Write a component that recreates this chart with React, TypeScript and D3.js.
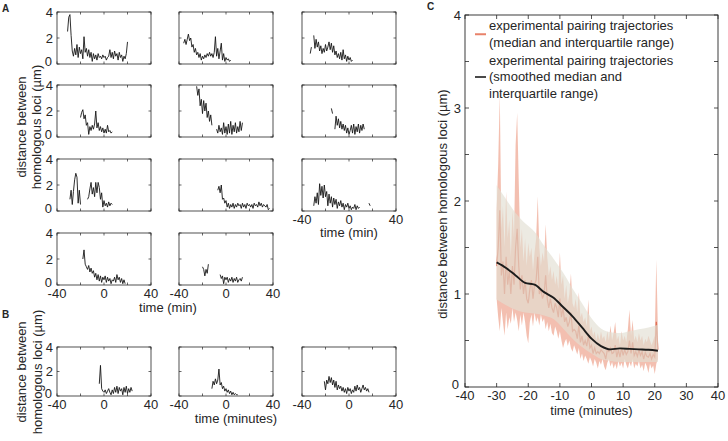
import * as d3 from "d3";

const FONT = "'Liberation Sans', Arial, Helvetica, sans-serif";
const INK = "#262626";

// ---- panels A / B : single trajectories, 1-min samples from t0 (null = gap) ----
const a11 = [2.5, 3.6, 3.8, 2.2, 1.0, 0.6, 1.2, 0.7, 1.5, 0.5, 1.3, 0.8, 1.1, 0.4, 2.1, 0.9, 1.2, 0.6, 1.1, 0.5, 0.9, 0.2, 0.8, 0.4, 0.7, 0.3, 0.8, 0.5, 0.6, 0.4, 0.7, 0.5, 0.6, 0.3, 0.5, 0.6, 1.1, 0.5, 0.9, 0.4, 1.0, 0.6, 0.8, 0.3, 0.9, 0.5, 0.7, 0.2, 0.6, 0.4, 0.8, 1.7];
const a21 = [1.5, 1.9, 2.1, 1.4, 1.7, 0.9, 1.1, 0.2, 0.8, 0.5, 0.9, 0.6, 1.0, 2.0, 0.7, 1.1, 0.5, 0.8, 0.4, 0.7, 0.3, 0.6, 0.3, 0.9, 0.4, 0.5, 0.3, 0.4];
const a31 = [0.9, 1.6, 0.5, 1.5, 2.4, 2.9, 2.6, 0.6, 1.6, 0.5, null, null, null, null, null, 0.9, 1.1, 1.7, 2.2, 1.3, 1.8, 1.1, 2.2, 1.4, 2.2, 1.8, 0.9, 1.4, 0.3, 0.8, 0.4, 0.6, 0.3, 0.7, 0.4, 0.6, 0.5];
const a41 = [2.0, 2.7, 1.6, 1.4, 1.2, 1.5, 1.0, 1.3, 0.9, 1.1, 0.6, 0.9, 0.4, 0.8, 0.3, 0.7, 0.2, 0.6, 0.4, 0.7, 0.2, 0.6, 0.3, 0.5, 0.1, 0.4, 0.3, 0.6, 0.2, 0.8, 0.4, 0.6, 0.2, 0.5, 0.1, 0.4, 0.1];
const a12 = [1.6, 1.9, 1.5, 1.9, 2.3, 1.8, 2.0, 1.3, 1.5, 0.9, 1.2, 0.7, 0.9, 0.5, 0.8, 0.3, 0.6, 0.4, 0.7, 0.5, 0.8, 0.6, 0.9, 0.6, 0.8, 0.5, 0.9, 2.1, 0.6, 1.2, 0.4, 1.0, 1.6, 0.3, 0.8, 0.2, 0.5, 0.3, 0.4, 0.2, 0.3];
const a22 = [3.9, 3.2, 3.7, 2.4, 2.9, 1.8, 2.8, 2.0, 2.6, 1.5, 2.0, 1.2, 1.7, 0.9, null, null, null, 0.6, 0.3, 0.9, 0.4, 0.7, 0.2, 1.1, 0.3, 0.8, 0.2, 1.0, 0.3, 1.2, 0.2, 0.9, 0.4, 1.1, 0.3, 0.8, 0.4, 1.2, 0.5, 1.1];
const a32 = [1.6, 1.9, 1.4, 2.0, 0.9, 1.0, 0.6, 0.8, 0.3, 0.6, 0.2, 0.5, 0.3, 0.6, 0.2, 0.5, 0.3, 0.6, 0.4, 0.5, 0.2, 0.6, 0.3, 0.5, 0.2, 0.6, 0.4, 0.5, 0.3, 0.5, 0.2, 0.6, 0.4, 0.5, 0.3, 0.7, 0.4, 0.6, 0.3, 0.5, 0.4, 0.3, 0.5, 0.1, 0.2];
const a42 = [1.4, 1.2, 0.7, 1.2, 0.9, 1.6, null, null, null, null, null, null, null, null, null, 0.8, 0.5, 0.7, 0.1, 0.6, 0.4, 0.6, 0.2, 0.5, 0.3, 0.6, 0.2, 0.5, 0.3, 0.6, 0.2, 0.4, 0.5, 0.3, 0.6];
const a13 = [0.8, 1.3, null, 2.2, 1.2, 1.9, 1.3, 1.7, 1.0, 1.4, 0.8, 1.2, 0.9, 1.5, 1.0, 1.3, 1.7, 1.1, 1.6, 0.9, 1.4, 0.7, 1.0, 0.5, 0.8, 0.4, 0.9, 0.3, 1.1, 0.4, 0.7, 0.2, 0.6, 0.3, 0.5, 0.2, 0.3];
const a23 = [2.2, 1.8, null, 0.6, 1.6, 0.9, 1.4, 0.7, 1.2, 0.6, 1.0, 0.5, 0.9, 0.3, 0.7, 0.2, 0.5, 0.9, 0.3, 1.0, 0.2, 0.8, 0.4, 1.0, 0.3, 0.9, 0.5, 1.0, 0.6];
const a33 = [0.4, 1.1, 0.6, 1.4, 0.5, 2.1, 1.2, 1.9, 1.0, 2.0, 1.1, 1.5, 0.4, 1.3, 0.6, 1.1, 0.3, 1.0, 0.5, 0.9, 0.2, 0.7, 0.4, 0.8, 0.3, 0.6, 0.1, 0.5, 0.3, 0.6, 0.2, 0.4, 0.1, 0.3, 0.2, 0.5, 0.1, 0.4, 0.2, 0.3, null, null, null, null, null, null, null, 0.6, 0.4];
const b1 = [1.0, 2.5, 0.6, 0.4, 0.3, 0.5, 0.2, 0.4, 0.6, 0.3, 0.1, 0.5, 0.2, 0.7, 0.3, 0.8, 0.2, 0.7, 0.4, 0.6, 0.1, 0.7, 0.3, 0.8, 0.2, 0.6, 0.3, 0.7, 0.4];
const b2 = [0.6, 1.2, 0.9, 1.4, 1.0, 1.3, 2.2, 0.9, 1.1, 0.6, 0.8, 0.4, 0.6, 0.3, 0.5, 0.2, 0.4, 0.1, 0.3, 0.1, 0.2, 0.1, 0.1];
const b3 = [1.2, 0.5, 1.3, 1.0, 1.6, 1.1, 1.5, 0.9, 1.3, 0.7, 1.2, 0.5, 0.9, 0.6, 0.8, 0.4, 0.7, 0.3, 0.6, 0.2, 0.7, 0.4, 0.6, 0.2, 0.5, 0.3, 0.8, 0.4, 0.9, 0.5, 0.7, 0.3, 0.6, 0.9, 0.5, 0.7, 0.4, 0.6, 0.3];

const smallXTicks = [-40, -20, 0, 20, 40];
const smallXLabels = [-40, 0, 40];
const smallYTicks = [0, 2, 4];

// ---- panel C : median / IQR, 0.5-min samples from -30 min ----
const cStart = -30;
const cUpper = [
  1.9, 2.4, 3.15, 1.7, 1.95, 1.5, 2.1, 1.6, 1.8, 1.4,
  1.9, 1.6, 2.6, 2.95, 2.2, 1.5, 1.7, 1.35, 1.6, 1.3,
  1.55, 1.4, 1.5, 1.25, 1.45, 1.6, 2.05, 1.5, 1.3, 1.45,
  1.35, 1.75, 1.4, 1.2, 1.3, 1.15, 1.25, 1.1, 1.2, 1.05,
  1.45, 1.1, 1.2, 0.95, 1.1, 0.9, 1.0, 1.22, 0.9, 0.85,
  0.95, 0.8, 1.02, 0.75, 0.8, 0.7, 0.75, 0.65, 0.94, 0.6,
  0.65, 0.55, 0.6, 0.5, 0.58, 0.5, 0.6, 0.52, 0.55, 0.48,
  0.6, 0.5, 0.66, 0.5, 0.58, 0.7, 0.5, 0.55, 0.45, 0.6,
  0.5, 0.55, 0.48, 0.62, 0.83, 0.55, 0.72, 0.5, 0.55, 0.48,
  0.58, 0.5, 0.55, 0.45, 0.52, 0.48, 0.55, 0.5, 0.45, 0.5,
  0.55, 1.37, 0.6,
];
const cLower = [
  0.95, 0.75, 0.6, 0.85, 0.7, 0.55, 0.8, 0.62, 0.75, 0.68,
  0.85, 0.7, 0.8, 0.72, 0.6, 0.78, 0.66, 0.8, 0.7, 0.55,
  0.47, 0.7, 0.78, 0.65, 0.8, 0.7, 0.75, 0.66, 0.78, 0.7,
  0.74, 0.62, 0.7, 0.6, 0.68, 0.58, 0.55, 0.65, 0.6, 0.52,
  0.6, 0.5, 0.42, 0.48, 0.52, 0.44, 0.5, 0.42, 0.38, 0.45,
  0.4, 0.35, 0.42, 0.3, 0.36, 0.28, 0.34, 0.3, 0.25, 0.32,
  0.28, 0.22, 0.3, 0.26, 0.2, 0.28, 0.24, 0.3, 0.22, 0.18,
  0.26, 0.3, 0.22, 0.27, 0.2, 0.25, 0.19, 0.28, 0.22, 0.26,
  0.2, 0.3, 0.24, 0.2, 0.27, 0.22, 0.3, 0.2, 0.25, 0.22,
  0.28, 0.2, 0.24, 0.17, 0.26, 0.22, 0.15, 0.25, 0.2, 0.23,
  0.14, 0.25, 0.3,
];
const cMedian = [
  1.3, 1.5, 1.9, 1.2, 1.35, 1.0, 1.4, 1.1, 1.25, 1.0,
  1.3, 1.1, 1.5, 1.7, 1.3, 1.05, 1.2, 1.0, 1.15, 0.95,
  0.9, 1.05, 1.15, 0.95, 1.1, 1.15, 1.4, 1.0, 1.05, 0.95,
  1.0, 1.2, 0.95, 0.85, 0.95, 0.85, 0.8, 0.9, 0.85, 0.75,
  0.95, 0.75, 0.85, 0.7, 0.75, 0.65, 0.7, 0.8, 0.6, 0.62,
  0.6, 0.52, 0.66, 0.48, 0.55, 0.45, 0.5, 0.44, 0.55, 0.42,
  0.45, 0.36, 0.42, 0.36, 0.38, 0.36, 0.4, 0.38, 0.36, 0.3,
  0.4, 0.38, 0.42, 0.36, 0.37, 0.45, 0.32, 0.4, 0.32, 0.42,
  0.34, 0.4, 0.35, 0.38, 0.5, 0.36, 0.48, 0.34, 0.38, 0.33,
  0.4, 0.34, 0.38, 0.3, 0.37, 0.33, 0.32, 0.36, 0.3, 0.35,
  0.32, 0.7, 0.4,
];

// smoothed median and IQR
const smoothT = [-30, -27, -24, -21, -18, -15, -12, -9, -6, -3, 0, 3, 6, 9, 12, 15, 18, 21];
const smoothMed = [1.34, 1.28, 1.2, 1.12, 1.1, 1.02, 0.96, 0.86, 0.76, 0.64, 0.52, 0.44, 0.405, 0.415, 0.41, 0.405, 0.4, 0.39];
const smoothHi = [2.17, 2.02, 1.87, 1.76, 1.67, 1.52, 1.38, 1.23, 1.06, 0.9, 0.74, 0.63, 0.59, 0.58, 0.6, 0.62, 0.64, 0.67];
const smoothLo = [0.94, 0.88, 0.83, 0.8, 0.79, 0.77, 0.73, 0.63, 0.52, 0.43, 0.36, 0.3, 0.28, 0.27, 0.27, 0.27, 0.27, 0.27];

const cXTicks = [-40, -30, -20, -10, 0, 10, 20, 30, 40];
const cYTicks = [0, 0.5, 1, 1.5, 2, 2.5, 3, 3.5, 4];
const cYLabels = [0, 1, 2, 3, 4];

const legendItems = [
  { color: "#e8826a", lines: ["experimental pairing trajectories", "(median and interquartile range)"] },
  { color: "#4a4a4a", lines: ["experimental pairing trajectories", "(smoothed median and", "interquartile range)"] },
];

type Pt = [number, number | null];

function SmallPanel({ left, top, h, data, t0, yLab, xLab }: any) {
  const w = 94;
  const x = d3.scaleLinear().domain([-40, 40]).range([left, left + w]);
  const y = d3.scaleLinear().domain([0, 4]).range([top + h, top]);
  const pts: Pt[] = data.map((v: number | null, i: number) => [t0 + i, v]);
  const line = d3
    .line<Pt>()
    .defined((d) => d[1] != null)
    .x((d) => x(d[0]))
    .y((d) => y(d[1] as number));
  return (
    <g>
      <path d={line(pts) || ""} fill="none" stroke="#161616" strokeWidth={0.9} />
      <rect x={left} y={top} width={w} height={h} fill="none" stroke={INK} strokeWidth={0.8} />
      {smallXTicks.map((t) => (
        <g key={"x" + t} stroke={INK} strokeWidth={0.7}>
          <line x1={x(t)} x2={x(t)} y1={top + h} y2={top + h - 2.5} />
          <line x1={x(t)} x2={x(t)} y1={top} y2={top + 2.5} />
        </g>
      ))}
      {smallYTicks.map((v) => (
        <g key={"y" + v} stroke={INK} strokeWidth={0.7}>
          <line x1={left} x2={left + 2.5} y1={y(v)} y2={y(v)} />
          <line x1={left + w} x2={left + w - 2.5} y1={y(v)} y2={y(v)} />
        </g>
      ))}
      {yLab &&
        smallYTicks.map((v) => (
          <text key={"yl" + v} x={v === 0 ? left - 5 : left - 4} y={y(v) - (v === 0 ? 3 : 0)} dy="0.36em" textAnchor="end">
            {v}
          </text>
        ))}
      {xLab &&
        smallXLabels.map((t) => (
          <text key={"xl" + t} x={x(t)} y={top + h + 12.5} textAnchor="middle">
            {t}
          </text>
        ))}
    </g>
  );
}

function PanelC() {
  const left = 465, right = 718, top = 15, bottom = 387;
  const x = d3.scaleLinear().domain([-40, 40]).range([left, right]);
  const y = d3.scaleLinear().domain([0, 4]).range([bottom, top]);

  const rows = cUpper.map((u, i) => ({ t: cStart + i * 0.5, u, l: cLower[i], m: cMedian[i] }));
  const iqr = d3.area<any>().x((d) => x(d.t)).y0((d) => y(d.l)).y1((d) => y(d.u));
  const med = d3.line<any>().x((d) => x(d.t)).y((d) => y(d.m));

  const srows = smoothT.map((t, i) => ({ t, m: smoothMed[i], hi: smoothHi[i], lo: smoothLo[i] }));
  const sBand = d3.area<any>().curve(d3.curveMonotoneX).x((d) => x(d.t)).y0((d) => y(d.lo)).y1((d) => y(d.hi));
  const sLine = d3.line<any>().curve(d3.curveMonotoneX).x((d) => x(d.t)).y((d) => y(d.m));

  return (
    <g>
      <path d={iqr(rows) || ""} fill="#ec9880" fillOpacity={0.62} />
      <path d={med(rows) || ""} fill="none" stroke="#d9553a" strokeOpacity={0.75} strokeWidth={1.2} />
      <path d={sBand(srows) || ""} fill="#e2dfd3" fillOpacity={0.65} />
      <path d={sLine(srows) || ""} fill="none" stroke="#1c1c1c" strokeWidth={1.9} />

      <rect x={left} y={top} width={right - left} height={bottom - top} fill="none" stroke={INK} strokeWidth={0.9} />
      {cXTicks.map((t) => (
        <g key={"cx" + t}>
          <line x1={x(t)} x2={x(t)} y1={bottom} y2={bottom - 4} stroke={INK} strokeWidth={0.8} />
          <line x1={x(t)} x2={x(t)} y1={top} y2={top + 4} stroke={INK} strokeWidth={0.8} />
          <text x={x(t)} y={bottom + 12.5} textAnchor="middle">
            {t}
          </text>
        </g>
      ))}
      {cYTicks.map((v) => (
        <g key={"cy" + v} stroke={INK} strokeWidth={0.8}>
          <line x1={left} x2={left + 4} y1={y(v)} y2={y(v)} />
          <line x1={right} x2={right - 4} y1={y(v)} y2={y(v)} />
        </g>
      ))}
      {cYLabels.map((v) => (
        <text key={"cyl" + v} x={v === 0 ? left - 6 : left - 4} y={y(v) - (v === 0 ? 3 : 0)} dy="0.36em" textAnchor="end">
          {v}
        </text>
      ))}
      <text x={(left + right) / 2} y={415} textAnchor="middle">
        time (minutes)
      </text>
      <text transform={`translate(442,204) rotate(-90)`} dy="0.35em" textAnchor="middle">
        distance between homologous loci (µm)
      </text>

      {legendItems.map((item, k) => {
        const y0 = k === 0 ? 30 : 64.5;
        const mid = y0 + ((item.lines.length - 1) * 16.5) / 2 - 4;
        return (
          <g key={"lg" + k}>
            <line x1={475} x2={486} y1={mid} y2={mid} stroke={item.color} strokeWidth={2} />
            {item.lines.map((s, j) => (
              <text key={j} x={489} y={y0 + j * 16.5}>
                {s}
              </text>
            ))}
          </g>
        );
      })}
    </g>
  );
}

const colLeft = [57, 179, 302];
const rowTop = [12, 85, 159, 233];

export default function App() {
  const rowsA: any[] = [
    { data: a11, t0: -31, c: 0, r: 0 },
    { data: a12, t0: -36, c: 1, r: 0 },
    { data: a13, t0: -33, c: 2, r: 0 },
    { data: a21, t0: -20, c: 0, r: 1 },
    { data: a22, t0: -25, c: 1, r: 1 },
    { data: a23, t0: -15, c: 2, r: 1 },
    { data: a31, t0: -29, c: 0, r: 2 },
    { data: a32, t0: -7, c: 1, r: 2 },
    { data: a33, t0: -30, c: 2, r: 2 },
    { data: a41, t0: -18, c: 0, r: 3 },
    { data: a42, t0: -20, c: 1, r: 3 },
  ];
  const rowsB: any[] = [
    { data: b1, t0: -4, c: 0 },
    { data: b2, t0: -12, c: 1 },
    { data: b3, t0: -21, c: 2 },
  ];
  return (
    <svg
      width={728}
      height={441}
      style={{ position: "absolute", left: 0, top: 0, background: "#fff" }}
      fontFamily={FONT}
      fontSize={13}
      fill={INK}
    >
      <text x={2} y={12} fontSize={10} fontWeight="bold">A</text>
      <text x={2} y={318} fontSize={10} fontWeight="bold">B</text>
      <text x={427} y={10} fontSize={10} fontWeight="bold">C</text>

      {rowsA.map((p, i) => (
        <SmallPanel
          key={"a" + i}
          left={colLeft[p.c]}
          top={rowTop[p.r]}
          h={52}
          data={p.data}
          t0={p.t0}
          yLab={p.c === 0}
          xLab={p.r === 3 || (p.c === 2 && p.r === 2)}
        />
      ))}
      <text x={168} y={312} textAnchor="middle">time (min)</text>
      <text x={349} y={237} textAnchor="middle">time (min)</text>
      <text transform="translate(21,127) rotate(-90)" dy="0.35em" textAnchor="middle">distance between</text>
      <text transform="translate(36,127) rotate(-90)" dy="0.35em" textAnchor="middle">homologous loci (µm)</text>

      {rowsB.map((p, i) => (
        <SmallPanel key={"b" + i} left={colLeft[p.c]} top={347} h={49} data={p.data} t0={p.t0} yLab={p.c === 0} xLab={true} />
      ))}
      <text x={236} y={423} textAnchor="middle">time (minutes)</text>
      <text transform="translate(21,372) rotate(-90)" dy="0.35em" textAnchor="middle">distance between</text>
      <text transform="translate(37,372) rotate(-90)" dy="0.35em" textAnchor="middle">homologous loci (µm)</text>

      <PanelC />
    </svg>
  );
}
